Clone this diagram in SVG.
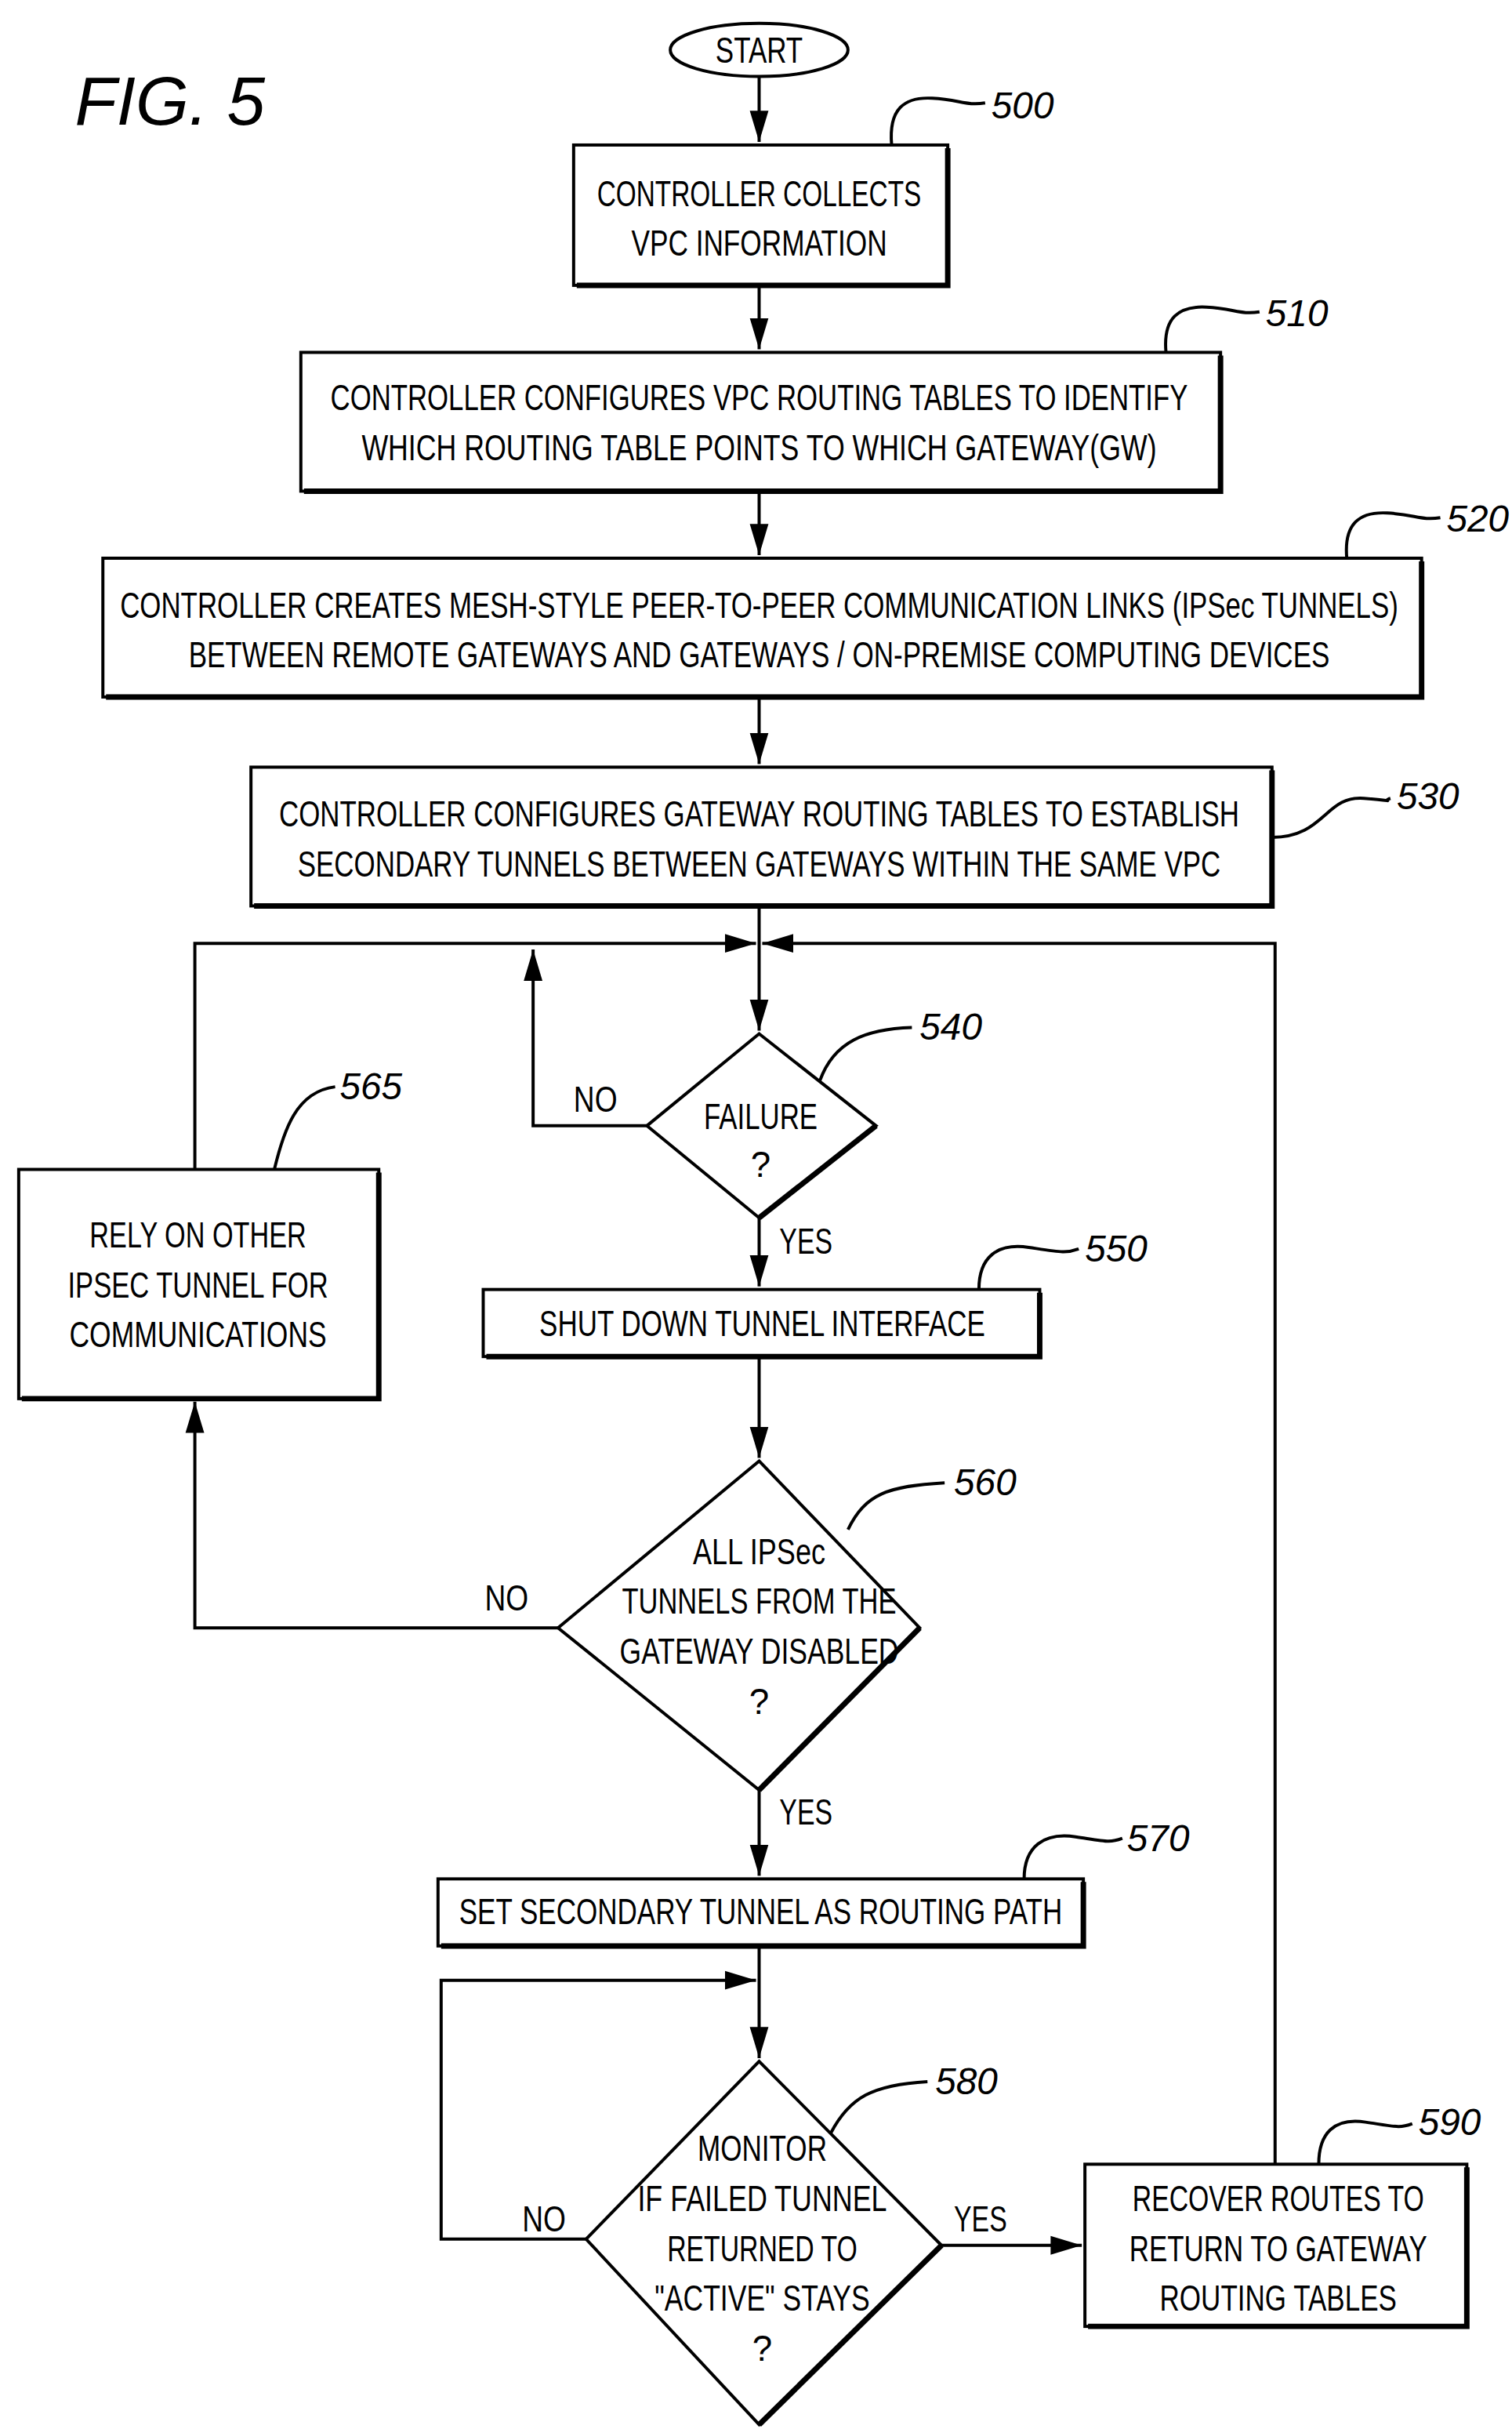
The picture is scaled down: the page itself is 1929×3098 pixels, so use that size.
<svg xmlns="http://www.w3.org/2000/svg" width="1929" height="3098" viewBox="0 0 1929 3098">
<style>
.b{fill:#fff;stroke:#000;stroke-width:2}
.s{fill:none;stroke:#000;stroke-width:3.5}
.l{fill:none;stroke:#000;stroke-width:2}
text{font-family:"Liberation Sans",Arial,sans-serif;font-size:23px;text-anchor:middle;fill:#000}
.n{font-style:italic;font-size:24px;text-anchor:start}
</style>
<defs>
<marker id="A" viewBox="0 0 10 10" refX="10" refY="5" markerWidth="10" markerHeight="10" orient="auto"><path d="M0,2 L10,5 L0,8z"/></marker></defs>
<rect width="1929" height="3098" fill="#fff"/>
<g transform="scale(1.9887)">
<text x="48" y="80" style="font-style:italic;font-size:44px;text-anchor:start" textLength="122" lengthAdjust="spacingAndGlyphs">FIG. 5</text>
<g id="connectors">
<path class="l" d="M487,49 V91" marker-end="url(#A)"/>
<path class="l" d="M487,184 V224" marker-end="url(#A)"/>
<path class="l" d="M487,316 V356" marker-end="url(#A)"/>
<path class="l" d="M487,448 V490" marker-end="url(#A)"/>
<path class="l" d="M487,582 V661" marker-end="url(#A)"/>
<path class="l" d="M125,750 V605 H485" marker-end="url(#A)"/>
<path class="l" d="M818,1388 V605 H489" marker-end="url(#A)"/>
<path class="l" d="M415,722 H342 V609" marker-end="url(#A)"/>
<path class="l" d="M487,781 V825" marker-end="url(#A)"/>
<path class="l" d="M487,871 V935" marker-end="url(#A)"/>
<path class="l" d="M358,1044 H125 V899" marker-end="url(#A)"/>
<path class="l" d="M487,1148 V1203" marker-end="url(#A)"/>
<path class="l" d="M487,1249 V1320" marker-end="url(#A)"/>
<path class="l" d="M376,1436 H283 V1270 H485" marker-end="url(#A)"/>
<path class="l" d="M604,1440 H694" marker-end="url(#A)"/>
<text x="382" y="713" textLength="28" lengthAdjust="spacingAndGlyphs">NO</text>
<text x="517" y="804" textLength="34" lengthAdjust="spacingAndGlyphs">YES</text>
<text x="325" y="1033" textLength="28" lengthAdjust="spacingAndGlyphs">NO</text>
<text x="517" y="1170" textLength="34" lengthAdjust="spacingAndGlyphs">YES</text>
<text x="349" y="1431" textLength="28" lengthAdjust="spacingAndGlyphs">NO</text>
<text x="629" y="1431" textLength="34" lengthAdjust="spacingAndGlyphs">YES</text>
</g>
<g id="start"><ellipse class="b" cx="487" cy="32" rx="57" ry="17"/><text x="487" y="40" textLength="56" lengthAdjust="spacingAndGlyphs">START</text></g>
<g id="n500"><rect class="b" x="368" y="93" width="240" height="90"/><path class="s" d="M370,183 H608 V95"/>
<text x="487" y="132" textLength="208" lengthAdjust="spacingAndGlyphs">CONTROLLER COLLECTS</text><text x="487" y="164" textLength="164" lengthAdjust="spacingAndGlyphs">VPC INFORMATION</text>
<path class="l" d="M572,93 C570,70 580,62 598,63 S620,68 632,66"/><text class="n" x="636" y="76">500</text></g>
<g id="n510"><rect class="b" x="193" y="226" width="590" height="89"/><path class="s" d="M195,315 H783 V228"/>
<text x="487" y="263" textLength="550" lengthAdjust="spacingAndGlyphs">CONTROLLER CONFIGURES VPC ROUTING TABLES TO IDENTIFY</text><text x="487" y="295" textLength="510" lengthAdjust="spacingAndGlyphs">WHICH ROUTING TABLE POINTS TO WHICH GATEWAY(GW)</text>
<path class="l" d="M748,226 C746,204 756,196 774,197 S796,202 808,200"/><text class="n" x="812" y="209">510</text></g>
<g id="n520"><rect class="b" x="66" y="358" width="846" height="89"/><path class="s" d="M68,447 H912 V360"/>
<text x="487" y="396" textLength="820" lengthAdjust="spacingAndGlyphs">CONTROLLER CREATES MESH-STYLE PEER-TO-PEER COMMUNICATION LINKS (IPSec TUNNELS)</text><text x="487" y="428" textLength="732" lengthAdjust="spacingAndGlyphs">BETWEEN REMOTE GATEWAYS AND GATEWAYS / ON-PREMISE COMPUTING DEVICES</text>
<path class="l" d="M864,358 C862,336 872,328 890,329 S912,334 924,332"/><text class="n" x="928" y="341">520</text></g>
<g id="n530"><rect class="b" x="161" y="492" width="655" height="89"/><path class="s" d="M163,581 H816 V494"/>
<text x="487" y="530" textLength="616" lengthAdjust="spacingAndGlyphs">CONTROLLER CONFIGURES GATEWAY ROUTING TABLES TO ESTABLISH</text><text x="487" y="562" textLength="592" lengthAdjust="spacingAndGlyphs">SECONDARY TUNNELS BETWEEN GATEWAYS WITHIN THE SAME VPC</text>
<path class="l" d="M816,537 C850,537 850,510 875,512 S885,514 892,512"/><text class="n" x="896" y="519">530</text></g>
<g id="n540"><path class="b" d="M487,663 L562,722 L487,781 L415,722Z"/><path class="s" d="M562,722 L487,781"/>
<text x="488" y="724" textLength="73" lengthAdjust="spacingAndGlyphs">FAILURE</text><text x="488" y="755">?</text>
<path class="l" d="M526,693 C535,668 555,660 585,659"/><text class="n" x="590" y="667">540</text></g>
<g id="n550"><rect class="b" x="310" y="827" width="357" height="43"/><path class="s" d="M312,870 H667 V829"/>
<text x="489" y="857" textLength="286" lengthAdjust="spacingAndGlyphs">SHUT DOWN TUNNEL INTERFACE</text>
<path class="l" d="M628,827 C628,806 640,797 660,800 S684,804 692,801"/><text class="n" x="696" y="809">550</text></g>
<g id="n560"><path class="b" d="M487,937 L590,1044 L487,1148 L358,1044Z"/><path class="s" d="M590,1044 L487,1148"/>
<text x="487" y="1003" textLength="85" lengthAdjust="spacingAndGlyphs">ALL IPSec</text><text x="487" y="1035" textLength="176" lengthAdjust="spacingAndGlyphs">TUNNELS FROM THE</text><text x="487" y="1067" textLength="179" lengthAdjust="spacingAndGlyphs">GATEWAY DISABLED</text><text x="487" y="1099">?</text>
<path class="l" d="M544,981 C555,958 570,953 606,951"/><text class="n" x="612" y="959">560</text></g>
<g id="n565"><rect class="b" x="12" y="750" width="231" height="147"/><path class="s" d="M14,897 H243 V752"/>
<text x="127" y="800" textLength="139" lengthAdjust="spacingAndGlyphs">RELY ON OTHER</text><text x="127" y="832" textLength="167" lengthAdjust="spacingAndGlyphs">IPSEC TUNNEL FOR</text><text x="127" y="864" textLength="165" lengthAdjust="spacingAndGlyphs">COMMUNICATIONS</text>
<path class="l" d="M176,750 C182,725 190,700 215,697"/><text class="n" x="218" y="705">565</text></g>
<g id="n570"><rect class="b" x="281" y="1205" width="414" height="43"/><path class="s" d="M283,1248 H695 V1207"/>
<text x="488" y="1234" textLength="387" lengthAdjust="spacingAndGlyphs">SET SECONDARY TUNNEL AS ROUTING PATH</text>
<path class="l" d="M657,1205 C657,1184 670,1175 690,1178 S712,1182 720,1179"/><text class="n" x="723" y="1187">570</text></g>
<g id="n580"><path class="b" d="M487,1322 L604,1440 L487,1555 L376,1436Z"/><path class="s" d="M604,1440 L487,1555"/>
<text x="489" y="1386" textLength="83" lengthAdjust="spacingAndGlyphs">MONITOR</text><text x="489" y="1418" textLength="160" lengthAdjust="spacingAndGlyphs">IF FAILED TUNNEL</text><text x="489" y="1450" textLength="122" lengthAdjust="spacingAndGlyphs">RETURNED TO</text><text x="489" y="1482" textLength="138" lengthAdjust="spacingAndGlyphs">"ACTIVE" STAYS</text><text x="489" y="1514">?</text>
<path class="l" d="M533,1368 C545,1345 560,1337 595,1335"/><text class="n" x="600" y="1343">580</text></g>
<g id="n590"><rect class="b" x="696" y="1388" width="245" height="104"/><path class="s" d="M698,1492 H941 V1390"/>
<text x="820" y="1418" textLength="187" lengthAdjust="spacingAndGlyphs">RECOVER ROUTES TO</text><text x="820" y="1450" textLength="191" lengthAdjust="spacingAndGlyphs">RETURN TO GATEWAY</text><text x="820" y="1482" textLength="152" lengthAdjust="spacingAndGlyphs">ROUTING TABLES</text>
<path class="l" d="M846,1388 C846,1368 856,1358 876,1361 S898,1365 906,1362"/><text class="n" x="910" y="1369">590</text></g>
</g>
</svg>
